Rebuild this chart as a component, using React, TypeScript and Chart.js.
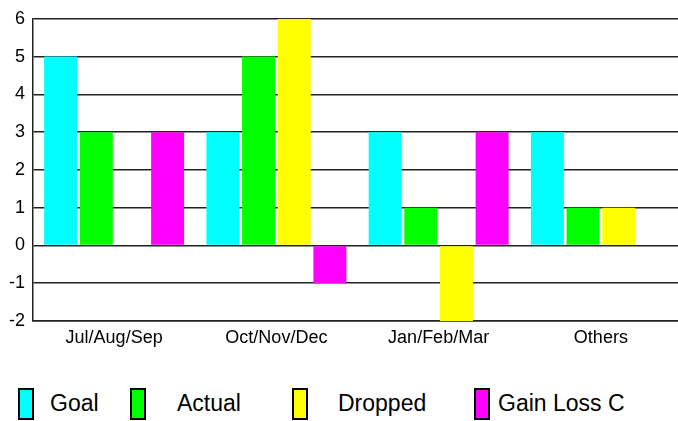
import { useEffect, useRef } from "react";
import { Chart, registerables, type ChartConfiguration } from "chart.js";

Chart.register(...registerables);

const categories = ["Jul/Aug/Sep", "Oct/Nov/Dec", "Jan/Feb/Mar", "Others"];
const goal = [5, 3, 3, 3];
const actual = [3, 5, 1, 1];
const dropped = [0, 6, -2, 1];
const gainLoss = [3, -1, 3, 0];
const yTicks = [-2, -1, 0, 1, 2, 3, 4, 5, 6];

const COLORS = ["#00ffff", "#00ff00", "#ffff00", "#ff00ff"];
const FONT = "'Liberation Sans', Arial, sans-serif";

const legendItems = [
  { label: "Goal", color: COLORS[0], box: 18, text: 50 },
  { label: "Actual", color: COLORS[1], box: 130, text: 177 },
  { label: "Dropped", color: COLORS[2], box: 292, text: 338 },
  { label: "Gain Loss C", color: COLORS[3], box: 474, text: 498 },
];

export default function App() {
  const canvasRef = useRef<HTMLCanvasElement>(null);
  const chartRef = useRef<Chart | null>(null);

  useEffect(() => {
    if (!canvasRef.current) return;
    chartRef.current?.destroy();

    const series = [goal, actual, dropped, gainLoss];
    const names = ["Goal", "Actual", "Dropped", "Gain Loss C"];

    const config: ChartConfiguration<"bar"> = {
      type: "bar",
      data: {
        labels: categories,
        datasets: series.map((d, i) => ({
          label: names[i],
          data: d,
          backgroundColor: COLORS[i],
          borderWidth: 0,
          categoryPercentage: 0.879,
          barPercentage: 0.925,
        })),
      },
      options: {
        responsive: true,
        maintainAspectRatio: false,
        animation: false,
        layout: { padding: { top: 14, left: 0, right: 0, bottom: 0 } },
        plugins: {
          legend: { display: false },
          tooltip: { enabled: false },
        },
        scales: {
          x: {
            grid: { display: false, drawTicks: false },
            border: { display: true, color: "#222", width: 1.5 },
            ticks: {
              color: "#000",
              padding: 6,
              font: { family: FONT, size: 18 },
              maxRotation: 0,
            },
            afterFit: (scale) => {
              scale.height = 39;
            },
          },
          y: {
            min: yTicks[0],
            max: yTicks[yTicks.length - 1],
            grid: { color: "#222", lineWidth: 1.5, drawTicks: false },
            border: { display: true, color: "#222", width: 1.5 },
            ticks: {
              stepSize: 1,
              color: "#000",
              padding: 8,
              font: { family: FONT, size: 18 },
            },
            afterFit: (scale) => {
              scale.width = 33;
            },
          },
        },
      },
    };

    chartRef.current = new Chart(canvasRef.current, config);

    return () => {
      chartRef.current?.destroy();
      chartRef.current = null;
    };
  }, []);

  return (
    <div
      style={{
        position: "absolute",
        left: 0,
        top: 0,
        width: 678,
        height: 421,
        overflow: "hidden",
        background: "#fff",
        fontFamily: FONT,
      }}
    >
      <div style={{ position: "absolute", left: 0, top: 0, width: 682, height: 360 }}>
        <canvas ref={canvasRef} />
      </div>
      {/* legend */}
      {legendItems.map((item) => (
        <div key={item.label}>
          <div
            style={{
              position: "absolute",
              left: item.box,
              top: 388,
              width: 16,
              height: 32,
              boxSizing: "border-box",
              border: "2.5px solid #000",
              background: item.color,
            }}
          />
          <div
            style={{
              position: "absolute",
              left: item.text,
              top: 392,
              fontSize: 23,
              lineHeight: 1,
              color: "#000",
              whiteSpace: "nowrap",
            }}
          >
            {item.label}
          </div>
        </div>
      ))}
    </div>
  );
}
